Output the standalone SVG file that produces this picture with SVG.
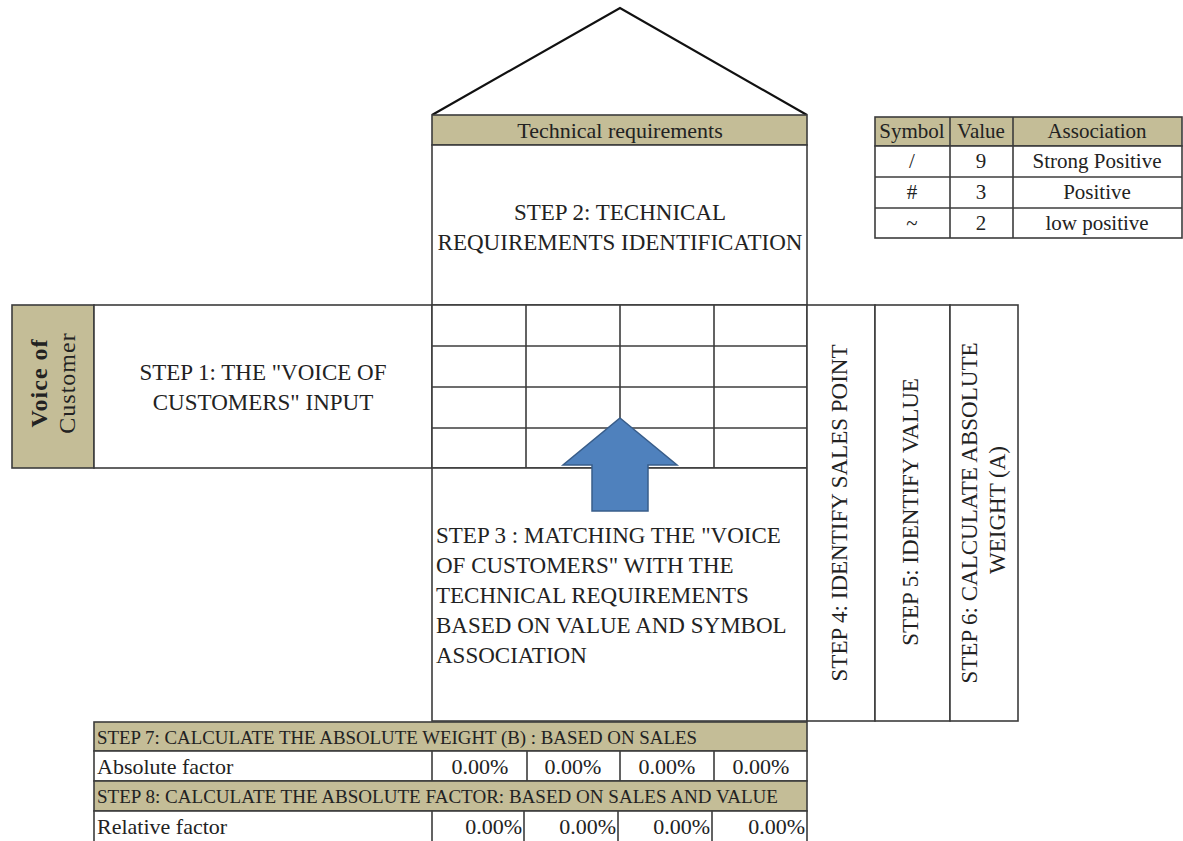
<svg xmlns="http://www.w3.org/2000/svg" width="1183" height="841" viewBox="0 0 1183 841" font-family="'Liberation Serif', 'Times New Roman', 'DejaVu Serif', serif">
  <style>
    .bg { fill: #ffffff; }
    .cell { fill: #ffffff; stroke: #3c3c3c; stroke-width: 1.6; }
    .head { fill: #c4bd97; stroke: #3c3c3c; stroke-width: 1.6; }
    .grid { stroke: #3c3c3c; stroke-width: 1.6; fill: none; }
    .roof { stroke: #111111; stroke-width: 2.2; fill: none; stroke-linejoin: miter; }
    text { fill: #222222; }
    .t22 { font-size: 22px; }
    .t23 { font-size: 23px; }
    .t21 { font-size: 21px; }
    .mid { text-anchor: middle; }
    .end { text-anchor: end; }
    .cap { font-size: 18px; }
    .arrow { fill: #4f81bd; stroke: #385d8a; stroke-width: 1.5; }
  </style>

  <rect class="bg" x="0" y="0" width="1183" height="841"/>

  <!-- roof -->
  <g id="roof">
    <polyline class="roof" points="432,115 620,8 807,115"/>
  </g>

  <!-- technical requirements header and step 2 -->
  <g id="technical-requirements">
    <rect class="head" x="432" y="115" width="375" height="30"/>
    <text class="t22 mid" x="620" y="138">Technical requirements</text>
  </g>
  <g id="step2">
    <rect class="cell" x="432" y="145" width="375" height="160"/>
    <text class="t23 mid" x="620" y="220">STEP 2: TECHNICAL</text>
    <text class="t23 mid" x="620" y="250">REQUIREMENTS IDENTIFICATION</text>
  </g>

  <!-- symbol legend -->
  <g id="legend">
    <rect class="head" x="875" y="117" width="307" height="29"/>
    <rect class="cell" x="875" y="146" width="307" height="92"/>
    <line class="grid" x1="875" y1="177" x2="1182" y2="177"/>
    <line class="grid" x1="875" y1="208" x2="1182" y2="208"/>
    <line class="grid" x1="950" y1="117" x2="950" y2="238"/>
    <line class="grid" x1="1013" y1="117" x2="1013" y2="238"/>
    <text class="t21 mid" x="912" y="138">Symbol</text>
    <text class="t21 mid" x="981" y="138">Value</text>
    <text class="t21 mid" x="1097" y="138">Association</text>
    <text class="t21 mid" x="912" y="168">/</text>
    <text class="t21 mid" x="981" y="168">9</text>
    <text class="t21 mid" x="1097" y="168">Strong Positive</text>
    <text class="t21 mid" x="912" y="199">#</text>
    <text class="t21 mid" x="981" y="199">3</text>
    <text class="t21 mid" x="1097" y="199">Positive</text>
    <text class="t21 mid" x="912" y="230">~</text>
    <text class="t21 mid" x="981" y="230">2</text>
    <text class="t21 mid" x="1097" y="230">low positive</text>
  </g>

  <!-- voice of customer -->
  <g id="voice-of-customer">
    <rect class="head" x="12" y="305" width="82" height="163"/>
    <text class="mid" font-size="24" font-weight="bold" letter-spacing="1" transform="translate(47,383) rotate(-90)">Voice of</text>
    <text class="mid" font-size="24" letter-spacing="1" transform="translate(75,383) rotate(-90)">Customer</text>
  </g>

  <!-- step 1 -->
  <g id="step1">
    <rect class="cell" x="94" y="305" width="338" height="163"/>
    <text class="t23 mid" x="263" y="380">STEP 1: THE "VOICE OF</text>
    <text class="t23 mid" x="263" y="410">CUSTOMERS" INPUT</text>
  </g>

  <!-- relationship matrix -->
  <g id="matrix">
    <rect class="cell" x="432" y="305" width="375" height="163"/>
    <line class="grid" x1="432" y1="346" x2="807" y2="346"/>
    <line class="grid" x1="432" y1="387" x2="807" y2="387"/>
    <line class="grid" x1="432" y1="428" x2="807" y2="428"/>
    <line class="grid" x1="526" y1="305" x2="526" y2="468"/>
    <line class="grid" x1="620" y1="305" x2="620" y2="468"/>
    <line class="grid" x1="714" y1="305" x2="714" y2="468"/>
  </g>

  <!-- step 3 -->
  <g id="step3">
    <rect class="cell" x="432" y="468" width="375" height="253"/>
    <text class="t23" x="436" y="543">STEP 3 : MATCHING THE "VOICE</text>
    <text class="t23" x="436" y="573">OF CUSTOMERS" WITH THE</text>
    <text class="t23" x="436" y="603">TECHNICAL REQUIREMENTS</text>
    <text class="t23" x="436" y="633">BASED ON VALUE AND SYMBOL</text>
    <text class="t23" x="436" y="663">ASSOCIATION</text>
  </g>

  <!-- up arrow from step 3 into the matrix -->
  <g id="connectors">
    <polygon class="arrow" points="620,418 677,465 648,465 648,511 592,511 592,465 563,465"/>
  </g>

  <!-- side columns -->
  <g id="step4">
    <rect class="cell" x="807" y="305" width="68" height="416"/>
    <text class="t23 mid" transform="translate(847,513) rotate(-90)">STEP 4: IDENTIFY SALES POINT</text>
  </g>
  <g id="step5">
    <rect class="cell" x="875" y="305" width="75" height="416"/>
    <text class="t23 mid" transform="translate(918,512) rotate(-90)">STEP 5: IDENTIFY VALUE</text>
  </g>
  <g id="step6">
    <rect class="cell" x="950" y="305" width="68" height="416"/>
    <text class="t23 mid" transform="translate(977,513) rotate(-90)">STEP 6: CALCULATE ABSOLUTE</text>
    <text class="t23 mid" transform="translate(1005,510) rotate(-90)">WEIGHT (A)</text>
  </g>

  <!-- bottom rows -->
  <g id="step7">
    <rect class="head" x="94" y="722" width="713" height="29"/>
    <text class="cap" x="97" y="744" textLength="600" lengthAdjust="spacingAndGlyphs">STEP 7: CALCULATE THE ABSOLUTE WEIGHT (B) : BASED ON SALES</text>
  </g>
  <g id="absolute-factor">
    <rect class="cell" x="94" y="751" width="713" height="30"/>
    <line class="grid" x1="432" y1="751" x2="432" y2="781"/>
    <line class="grid" x1="527" y1="751" x2="527" y2="781"/>
    <line class="grid" x1="620" y1="751" x2="620" y2="781"/>
    <line class="grid" x1="714" y1="751" x2="714" y2="781"/>
    <text class="t22" x="97" y="774">Absolute factor</text>
    <text class="t22 mid" x="480" y="774">0.00%</text>
    <text class="t22 mid" x="573" y="774">0.00%</text>
    <text class="t22 mid" x="667" y="774">0.00%</text>
    <text class="t22 mid" x="761" y="774">0.00%</text>
  </g>
  <g id="step8">
    <rect class="head" x="94" y="781" width="713" height="30"/>
    <text class="cap" x="97" y="803" textLength="681" lengthAdjust="spacingAndGlyphs">STEP 8: CALCULATE THE ABSOLUTE FACTOR: BASED ON SALES AND VALUE</text>
  </g>
  <g id="relative-factor">
    <rect class="cell" x="94" y="811" width="713" height="32"/>
    <line class="grid" x1="432" y1="811" x2="432" y2="841"/>
    <line class="grid" x1="524" y1="811" x2="524" y2="841"/>
    <line class="grid" x1="618" y1="811" x2="618" y2="841"/>
    <line class="grid" x1="712" y1="811" x2="712" y2="841"/>
    <text class="t22" x="97" y="834">Relative factor</text>
    <text class="t22 end" x="522" y="834">0.00%</text>
    <text class="t22 end" x="616" y="834">0.00%</text>
    <text class="t22 end" x="710" y="834">0.00%</text>
    <text class="t22 end" x="805" y="834">0.00%</text>
  </g>
</svg>
